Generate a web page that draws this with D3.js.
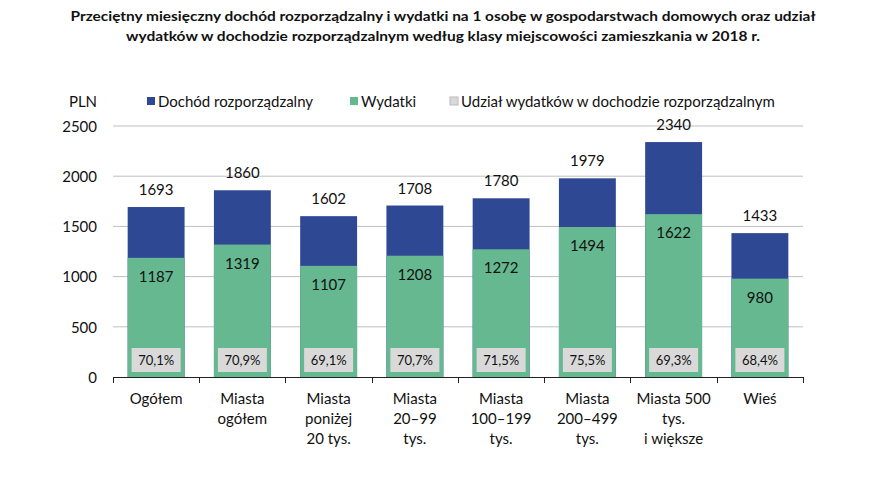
<!DOCTYPE html>
<html><head><meta charset="utf-8">
<script src="https://cdn.jsdelivr.net/npm/d3@7/dist/d3.min.js"></script>
<style>
body{margin:0;background:#fff;}
text{font-family:Lato,"Open Sans",sans-serif;fill:#111;}
</style></head>
<body><svg id="c" width="887" height="481"></svg>
<script>
const categories = [["Ogółem"],["Miasta","ogółem"],["Miasta","poniżej","20 tys."],["Miasta","20–99","tys."],["Miasta","100–199","tys."],["Miasta","200–499","tys."],["Miasta 500","tys.","i większe"],["Wieś"]];
const income = [1693,1860,1602,1708,1780,1979,2340,1433];
const expenses = [1187,1319,1107,1208,1272,1494,1622,980];
const shares = ["70,1%","70,9%","69,1%","70,7%","71,5%","75,5%","69,3%","68,4%"];
const yTicks = [0,500,1000,1500,2000,2500];
const titleLines = ["Przeciętny miesięczny dochód rozporządzalny i wydatki na 1 osobę w gospodarstwach domowych oraz udział","wydatków w dochodzie rozporządzalnym według klasy miejscowości zamieszkania w 2018 r."];
const legendItems = [["Dochód rozporządzalny","#2F4894"],["Wydatki","#66B890"],["Udział wydatków w dochodzie rozporządzalnym","#D9D9D9"]];

const svg = d3.select("#c");
const idx = d3.range(categories.length);
const x = d3.scaleBand().domain(idx).range([113,803]).paddingInner(0.34).paddingOuter(0.17);
const y = d3.scaleLinear().domain([0,2500]).range([377,126]);

// title
svg.append("g").selectAll("text").data(titleLines).join("text")
  .attr("x",443).attr("y",(d,i)=>21+i*20).attr("text-anchor","middle")
  .attr("font-weight","bold").attr("font-size",13.5)
  .attr("textLength",(d,i)=>i===0?745:634).attr("lengthAdjust","spacingAndGlyphs")
  .text(d=>d);

// gridlines
svg.append("g").selectAll("line").data(yTicks.filter(t=>t>0)).join("line")
  .attr("x1",113).attr("x2",803).attr("y1",d=>y(d)).attr("y2",d=>y(d))
  .attr("stroke","#BFBFBF").attr("stroke-width",1);

// y axis labels
const ya = svg.append("g").attr("transform","translate(99,0)")
  .call(d3.axisLeft(y).tickValues(yTicks).tickFormat(d3.format("d")).tickSize(0).tickPadding(2));
ya.select(".domain").remove();
ya.selectAll("text").attr("font-size",15).attr("font-family","Lato").attr("fill","#111").attr("dy","0.35em");

svg.append("text").attr("x",83).attr("y",107).attr("text-anchor","middle").attr("font-size",15).text("PLN");

// legend
const legPos = [147,350,450];
const lg = svg.append("g");
legendItems.forEach((it,i)=>{
  lg.append("rect").attr("x",legPos[i]).attr("y",97).attr("width",8).attr("height",8)
    .attr("fill",it[1]).attr("stroke",i===2?"#BBBBBB":"none");
  lg.append("text").attr("x",legPos[i]+11).attr("y",107).attr("font-size",15).text(it[0]);
});

// bars
const bars = svg.append("g");
bars.selectAll("rect.inc").data(idx).join("rect").attr("class","inc")
  .attr("x",i=>x(i)).attr("width",x.bandwidth())
  .attr("y",i=>y(income[i])).attr("height",i=>y(0)-y(income[i])).attr("fill","#2F4894");
bars.selectAll("rect.exp").data(idx).join("rect").attr("class","exp")
  .attr("x",i=>x(i)).attr("width",x.bandwidth())
  .attr("y",i=>y(expenses[i])).attr("height",i=>y(0)-y(expenses[i])).attr("fill","#66B890");

// share boxes
bars.selectAll("rect.sh").data(idx).join("rect").attr("class","sh")
  .attr("x",i=>x(i)+x.bandwidth()/2-24.5).attr("width",49)
  .attr("y",348).attr("height",24).attr("fill","#D9D9D9");
bars.selectAll("text.sh").data(idx).join("text").attr("class","sh")
  .attr("x",i=>x(i)+x.bandwidth()/2).attr("y",365).attr("text-anchor","middle")
  .attr("font-size",13).text(i=>shares[i]);

// value labels
bars.selectAll("text.inc").data(idx).join("text").attr("class","inc")
  .attr("x",i=>x(i)+x.bandwidth()/2).attr("y",i=>y(income[i])-12).attr("text-anchor","middle")
  .attr("font-size",15).text(i=>income[i]);
bars.selectAll("text.exp").data(idx).join("text").attr("class","exp")
  .attr("x",i=>x(i)+x.bandwidth()/2).attr("y",i=>y(expenses[i])+24).attr("text-anchor","middle")
  .attr("font-size",15).text(i=>expenses[i]);

// x axis
const bounds = idx.map(i=>x(i)-x.step()*0.17).concat([x(idx.length-1)+x.bandwidth()+x.step()*0.17]);
svg.append("line").attr("x1",113).attr("x2",803).attr("y1",377.5).attr("y2",377.5).attr("stroke","#222").attr("stroke-width",1);
svg.append("g").selectAll("line").data(bounds).join("line")
  .attr("x1",d=>Math.round(d)+0.5).attr("x2",d=>Math.round(d)+0.5).attr("y1",377).attr("y2",383)
  .attr("stroke","#222");
const xl = svg.append("g");
idx.forEach(i=>{
  categories[i].forEach((ln,j)=>{
    xl.append("text").attr("x",x(i)+x.bandwidth()/2).attr("y",404+j*20).attr("text-anchor","middle")
      .attr("font-size",15).text(ln);
  });
});
</script></body></html>
